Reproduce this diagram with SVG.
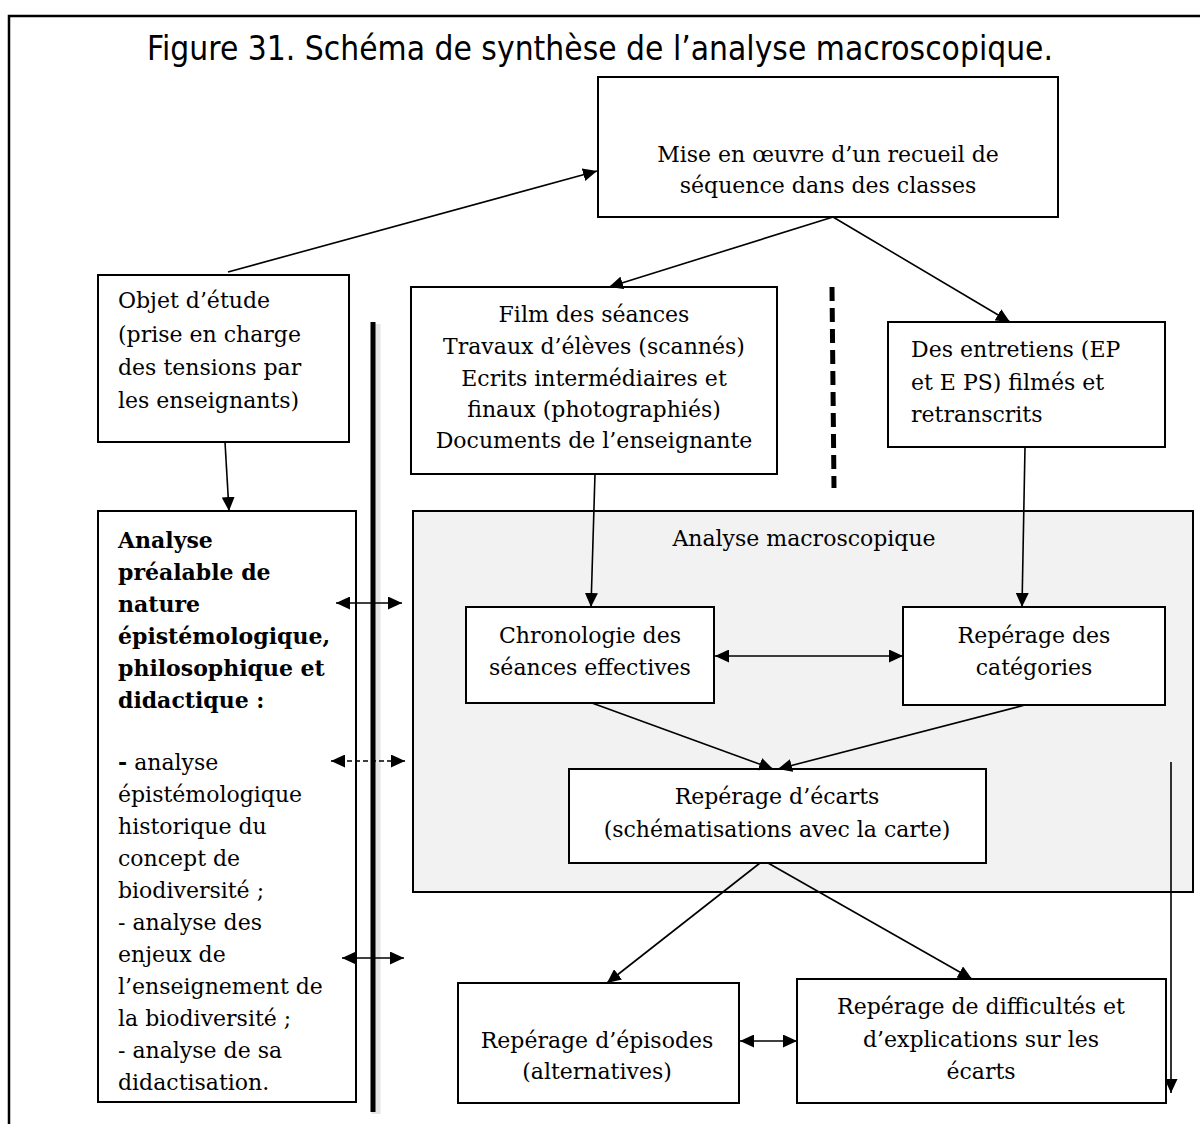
<svg xmlns="http://www.w3.org/2000/svg" width="1200" height="1124" viewBox="0 0 1200 1124">
<style>
.t{font-family:"DejaVu Serif","Liberation Serif",serif;font-size:22px;fill:#000}
.c{text-anchor:middle}
.b{font-weight:bold}
.box{fill:#fff;stroke:#000;stroke-width:2}
.ln{stroke:#000;stroke-width:1.6;fill:none}
</style>
<defs>
<marker id="ah" viewBox="0 0 14 13" refX="14" refY="6.5" markerWidth="14" markerHeight="13" markerUnits="userSpaceOnUse" orient="auto-start-reverse">
<path d="M0,0 L14,6.5 L0,13 z" fill="#000"/>
</marker>
</defs>
<rect width="1200" height="1124" fill="#fff"/>
<g id="frame">
<path d="M9,1124 V16 H1200" fill="none" stroke="#000" stroke-width="2.5"/>
</g>
<text x="600" y="60" font-family="DejaVu Sans,Verdana,sans-serif" font-size="34" text-anchor="middle" textLength="906" lengthAdjust="spacingAndGlyphs">Figure 31. Schéma de synthèse de l’analyse macroscopique.</text>

<g id="macro-area">
<rect x="413" y="511" width="780" height="381" fill="#f2f2f2" stroke="#000" stroke-width="2"/>
<text class="t c" x="804" y="546">Analyse macroscopique</text>
</g>

<g id="mise">
<rect class="box" x="598" y="77" width="460" height="140"/>
<text class="t c" x="828" y="162">Mise en œuvre d’un recueil de</text>
<text class="t c" x="828" y="193">séquence dans des classes</text>
</g>

<g id="objet">
<rect class="box" x="98" y="275" width="251" height="167"/>
<text class="t" x="118" y="308">Objet d’étude</text>
<text class="t" x="118" y="342">(prise en charge</text>
<text class="t" x="118" y="375">des tensions par</text>
<text class="t" x="118" y="408">les enseignants)</text>
</g>

<g id="film">
<rect class="box" x="411" y="287" width="366" height="187"/>
<text class="t c" x="594" y="322">Film des séances</text>
<text class="t c" x="594" y="354">Travaux d’élèves (scannés)</text>
<text class="t c" x="594" y="386">Ecrits intermédiaires et</text>
<text class="t c" x="594" y="417">finaux (photographiés)</text>
<text class="t c" x="594" y="448">Documents de l’enseignante</text>
</g>

<g id="entretiens">
<rect class="box" x="888" y="322" width="277" height="125"/>
<text class="t" x="911" y="357">Des entretiens (EP</text>
<text class="t" x="911" y="390">et E PS) filmés et</text>
<text class="t" x="911" y="422">retranscrits</text>
</g>

<g id="prealable">
<rect class="box" x="98" y="511" width="258" height="591"/>
<text class="t b" x="118" y="548">Analyse</text>
<text class="t b" x="118" y="580">préalable de</text>
<text class="t b" x="118" y="612">nature</text>
<text class="t b" x="118" y="644">épistémologique,</text>
<text class="t b" x="118" y="676">philosophique et</text>
<text class="t b" x="118" y="708">didactique :</text>
<text class="t" x="118" y="770"><tspan class="b">-</tspan> analyse</text>
<text class="t" x="118" y="802">épistémologique</text>
<text class="t" x="118" y="834">historique du</text>
<text class="t" x="118" y="866">concept de</text>
<text class="t" x="118" y="898">biodiversité ;</text>
<text class="t" x="118" y="930">- analyse des</text>
<text class="t" x="118" y="962">enjeux de</text>
<text class="t" x="118" y="994">l’enseignement de</text>
<text class="t" x="118" y="1026">la biodiversité ;</text>
<text class="t" x="118" y="1058">- analyse de sa</text>
<text class="t" x="118" y="1090">didactisation.</text>
</g>

<g id="chronologie">
<rect class="box" x="466" y="607" width="248" height="96"/>
<text class="t c" x="590" y="643">Chronologie des</text>
<text class="t c" x="590" y="675">séances effectives</text>
</g>

<g id="categories">
<rect class="box" x="903" y="607" width="262" height="98"/>
<text class="t c" x="1034" y="643">Repérage des</text>
<text class="t c" x="1034" y="675">catégories</text>
</g>

<g id="ecarts">
<rect class="box" x="569" y="769" width="417" height="94"/>
<text class="t c" x="777" y="804">Repérage d’écarts</text>
<text class="t c" x="777" y="837">(schématisations avec la carte)</text>
</g>

<g id="episodes">
<rect class="box" x="458" y="983" width="281" height="120"/>
<text class="t c" x="597" y="1048">Repérage d’épisodes</text>
<text class="t c" x="597" y="1079">(alternatives)</text>
</g>

<g id="difficultes">
<rect class="box" x="797" y="979" width="369" height="124"/>
<text class="t c" x="981" y="1014">Repérage de difficultés et</text>
<text class="t c" x="981" y="1047">d’explications sur les</text>
<text class="t c" x="981" y="1079">écarts</text>
</g>

<g id="separators">
<line x1="376" y1="324" x2="376" y2="1114" stroke="#ccc" stroke-width="9" opacity="0.5"/>
<line x1="373" y1="322" x2="373" y2="1112" stroke="#000" stroke-width="5"/>
<line x1="832" y1="287" x2="834" y2="488" stroke="#000" stroke-width="5" stroke-dasharray="14 7"/>
</g>

<g id="connectors">
<line class="ln" x1="228" y1="272" x2="597" y2="171" marker-end="url(#ah)"/>
<line class="ln" x1="833" y1="217" x2="609" y2="287" marker-end="url(#ah)"/>
<line class="ln" x1="833" y1="217" x2="1010" y2="322" marker-end="url(#ah)"/>
<line class="ln" x1="225" y1="442" x2="229" y2="511" marker-end="url(#ah)"/>
<line class="ln" x1="595" y1="474" x2="591" y2="607" marker-end="url(#ah)"/>
<line class="ln" x1="1025" y1="447" x2="1022" y2="607" marker-end="url(#ah)"/>
<line class="ln" x1="715" y1="656" x2="903" y2="656" marker-start="url(#ah)" marker-end="url(#ah)"/>
<line class="ln" x1="592" y1="703" x2="773" y2="769" marker-end="url(#ah)"/>
<line class="ln" x1="1025" y1="705" x2="778" y2="769" marker-end="url(#ah)"/>
<line class="ln" x1="760" y1="863" x2="607" y2="983" marker-end="url(#ah)"/>
<line class="ln" x1="768" y1="863" x2="972" y2="979" marker-end="url(#ah)"/>
<line class="ln" x1="740" y1="1041" x2="797" y2="1041" marker-start="url(#ah)" marker-end="url(#ah)"/>
<line class="ln" x1="1171" y1="762" x2="1171" y2="1093" marker-end="url(#ah)"/>
<line class="ln" x1="336" y1="603" x2="402" y2="603" marker-start="url(#ah)" marker-end="url(#ah)"/>
<line class="ln" x1="331" y1="761" x2="405" y2="761" stroke-dasharray="5 3" marker-start="url(#ah)" marker-end="url(#ah)"/>
<line class="ln" x1="342" y1="958" x2="404" y2="958" marker-start="url(#ah)" marker-end="url(#ah)"/>
</g>
</svg>
